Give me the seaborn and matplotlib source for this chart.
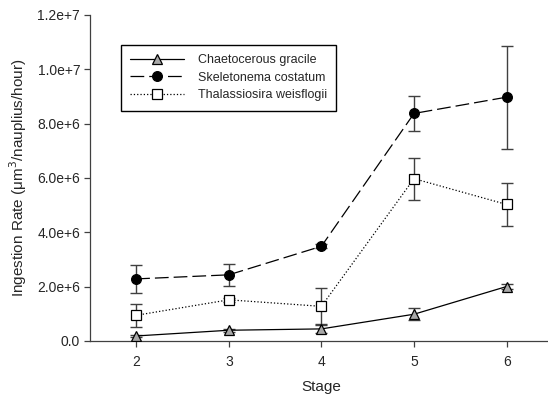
import matplotlib
matplotlib.use('Agg')
import matplotlib.pyplot as plt
import seaborn as sns
import numpy as np

# data
stage = [2, 3, 4, 5, 6]

chaeto = [0.18e6, 0.39e6, 0.44e6, 0.98e6, 2.0e6]
chaeto_err = [0.05e6, 0.06e6, 0.15e6, 0.23e6, 0.1e6]

skeleto = [2.28e6, 2.43e6, 3.48e6, 8.37e6, 8.97e6]
skeleto_err = [0.52e6, 0.40e6, 0.08e6, 0.65e6, 1.9e6]

thalass = [0.94e6, 1.51e6, 1.27e6, 5.97e6, 5.02e6]
thalass_err = [0.42e6, 0.08e6, 0.66e6, 0.77e6, 0.79e6]

y_ticks = [0, 2e6, 4e6, 6e6, 8e6, 1e7, 1.2e7]
y_ticklabels = ['0.0', '2.0e+6', '4.0e+6', '6.0e+6', '8.0e+6', '1.0e+7', '1.2e+7']

sns.set_style('ticks')
plt.rcParams['font.family'] = ['Liberation Sans', 'DejaVu Sans']

fig = plt.figure(figsize=(5.48, 4.01), dpi=100)
ax = fig.add_axes([0.164, 0.150, 0.845, 0.813])

series = [
    ('Chaetocerous gracile', chaeto, chaeto_err, '-', '^', '#a8a8a8', 7),
    ('Skeletonema costatum', skeleto, skeleto_err, (0, (11, 4)), 'o', 'black', 7),
    ('Thalassiosira weisflogii', thalass, thalass_err, ':', 's', 'white', 6.5),
]

for label, vals, err, ls, mk, fc, ms in series:
    ax.errorbar(stage, vals, yerr=err, fmt='none', ecolor='#404040',
                elinewidth=1, capsize=4, capthick=1, zorder=2)
    sns.lineplot(x=stage, y=vals, ax=ax, label=label, color='black',
                 linestyle=ls, linewidth=0.9, marker=mk, markersize=ms,
                 markerfacecolor=fc, markeredgecolor='black',
                 markeredgewidth=0.9, zorder=3)

ax.set_xlim(1.5, 6.5)
ax.set_ylim(0, 1.2e7)
ax.set_xticks(stage)
ax.set_yticks(y_ticks)
ax.set_yticklabels(y_ticklabels)
ax.tick_params(axis='both', labelsize=10, direction='out', length=4,
               width=0.9, color='#404040')
ax.tick_params(axis='y', pad=3)
ax.tick_params(axis='x', pad=6)

for s in ['left', 'bottom']:
    ax.spines[s].set_color('#404040')
    ax.spines[s].set_linewidth(0.9)
sns.despine(ax=ax)

ax.set_xlabel('Stage', fontsize=11, labelpad=8)
ax.set_ylabel('Ingestion Rate (\u03bcm$^3$/nauplius/hour)', fontsize=11,
              labelpad=6)

leg = ax.legend(loc='upper left', bbox_to_anchor=(0.067, 0.908),
                borderaxespad=0, fontsize=9, handlelength=4.3,
                handletextpad=1.1, labelspacing=0.45, borderpad=0.75,
                fancybox=False, framealpha=1, edgecolor='black')
leg.get_frame().set_linewidth(1)

fig.savefig('out.png', dpi=100)
